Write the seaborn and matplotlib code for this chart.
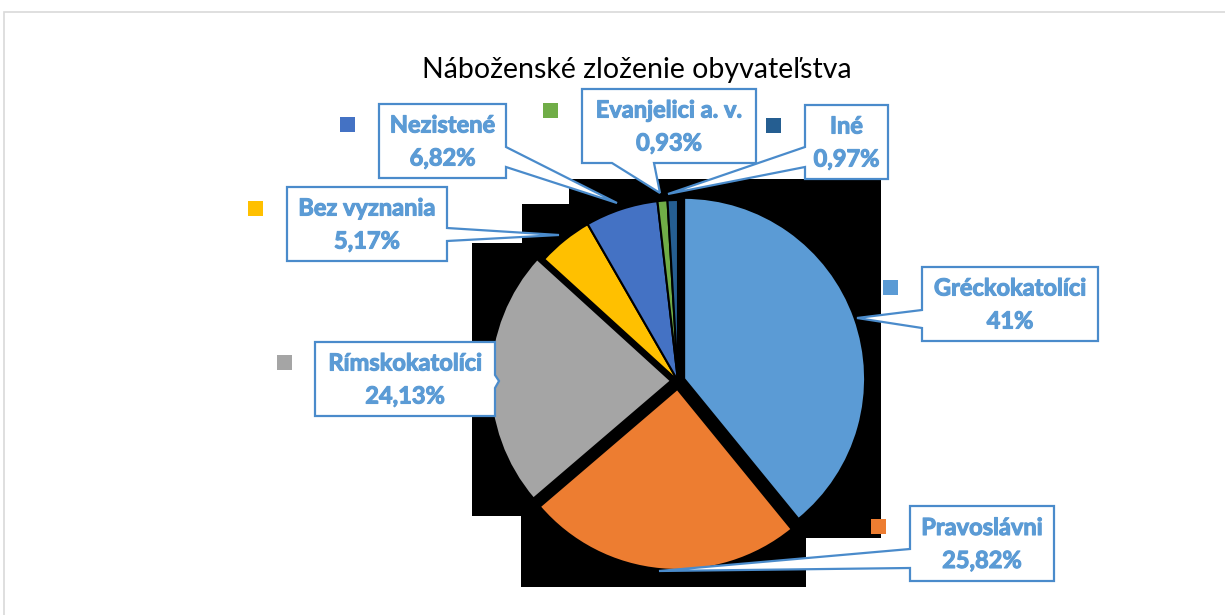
import numpy as np
import matplotlib
matplotlib.use("Agg")
import matplotlib.pyplot as plt
import matplotlib.patheffects as pe
from matplotlib.patches import Polygon, Rectangle
import seaborn as sns

# data (percent labels as shown in the chart)
categories = ['Gréckokatolíci', 'Pravoslávni', 'Rímskokatolíci', 'Bez vyznania',
              'Nezistené', 'Evanjelici a. v.', 'Iné']
values = [41, 25.82, 24.13, 5.17, 6.82, 0.93, 0.97]
value_labels = ['41%', '25,82%', '24,13%', '5,17%', '6,82%', '0,93%', '0,97%']

colors = sns.color_palette(['#5B9BD5', '#ED7D31', '#A5A5A5', '#FFC000',
                            '#4472C4', '#70AD47', '#255E91'])

sns.set_theme(style='white')
plt.rcParams['font.family'] = ['Lato', 'DejaVu Sans']

W, H = 1225, 615
def Y(py):
    # pixel row -> data y (y axis points up)
    return H - py

fig = plt.figure(figsize=(12.25, 6.15), dpi=100)
ax = fig.add_axes([0, 0, 1, 1])

# black backdrop behind the pie
black = [(472, 243), (522, 243), (522, 204), (569, 204), (569, 179), (881, 179),
         (881, 538), (806, 538), (806, 587), (521, 587), (521, 516), (472, 516)]
ax.add_patch(Polygon([(x, Y(y)) for x, y in black], closed=True,
                     facecolor='black', edgecolor='none', zorder=0))

explode = [6.5, 8, 7, 0, 0, 0, 0]
ax.pie(values, colors=colors, startangle=90, counterclock=False,
       explode=explode, radius=181, center=(678, Y(381)),
       wedgeprops=dict(edgecolor='black', linewidth=1.5))

# callout boxes: (left, top, right, bottom), pointer side, pointer base, tip
boxes = [(922, 267, 1098, 341), (910, 506, 1054, 581), (315, 342, 495, 416),
         (287, 187, 447, 261), (379, 104, 506, 178), (582, 89, 756, 163),
         (805, 105, 888, 179)]
sides = ['left', 'left', 'right', 'right', 'right', 'bottom', 'left']
bases = [(310, 328), (549, 568), (375, 388), (228, 241), (147, 167), (612, 654), (147, 167)]
tips = [(857, 318), (659, 571), (499, 381), (559, 235), (617, 203), (660, 193), (668, 194)]
keys = [(883, 280), (871, 519), (277, 355), (248, 201), (340, 117), (543, 103), (766, 118)]

txt_col = '#5B9BD5'
edge_col = '#4A8BCB'
thick = [pe.withStroke(linewidth=0.8, foreground=txt_col)]

for i in range(len(categories)):
    l, t, r, b = boxes[i]
    a1, a2 = bases[i]
    tip = tips[i]
    pts = [(l, t), (r, t)]
    if sides[i] == 'right':
        pts += [(r, a1), tip, (r, a2)]
    pts.append((r, b))
    if sides[i] == 'bottom':
        pts += [(a2, b), tip, (a1, b)]
    pts.append((l, b))
    if sides[i] == 'left':
        pts += [(l, a2), tip, (l, a1)]
    ax.add_patch(Polygon([(x, Y(y)) for x, y in pts], closed=True,
                         facecolor='white', edgecolor=edge_col, linewidth=1.6,
                         joinstyle='miter', zorder=3))
    cx = (l + r) / 2
    cy = (t + b) / 2
    ax.text(cx, Y(cy - 16), categories[i], ha='center', va='center',
            fontsize=17, fontweight='bold', color=txt_col, zorder=4,
            path_effects=thick)
    ax.text(cx, Y(cy + 17), value_labels[i], ha='center', va='center',
            fontsize=17, fontweight='bold', color=txt_col, zorder=4,
            path_effects=thick)
    kx, ky = keys[i]
    ax.add_patch(Rectangle((kx, Y(ky + 15)), 15, 15, facecolor=colors[i],
                           edgecolor='none', zorder=4))

ax.text(637, Y(70), 'Náboženské zloženie obyvateľstva', ha='center', va='center',
        fontsize=20.5, color='black', zorder=4)

# chart area border
ax.add_patch(Rectangle((4, Y(625)), 1240, 613, facecolor='none',
                       edgecolor='#D9D9D9', linewidth=1.2, zorder=5))

ax.set_xlim(0, W)
ax.set_ylim(0, H)
ax.set_aspect('equal')
ax.axis('off')

fig.savefig('out.png', dpi=100)
